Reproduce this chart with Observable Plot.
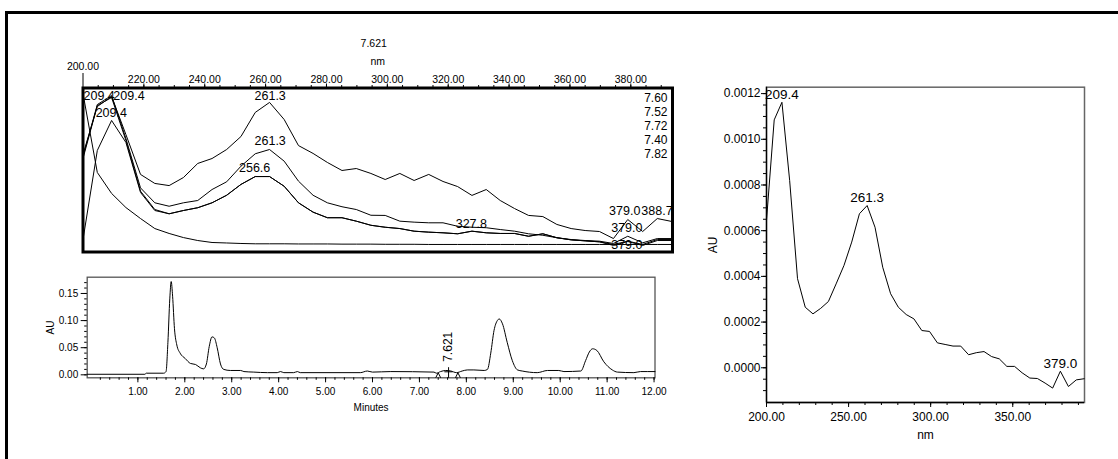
<!DOCTYPE html>
<html><head><meta charset="utf-8">
<script src="https://cdn.jsdelivr.net/npm/d3@7"></script>
<script src="https://cdn.jsdelivr.net/npm/@observablehq/plot@0.6"></script>
<style>
html,body{margin:0;padding:0;background:#fff;}
#chart{position:relative;width:1118px;height:459px;overflow:hidden;background:#fff;}
#chart svg{position:absolute;left:0;top:0;background:transparent;}
#border{position:absolute;left:5px;top:11px;width:1300px;height:700px;border-top:3.5px solid #000;border-left:3.5px solid #000;}
</style></head>
<body><div id="chart"><div id="border"></div></div>
<script>
const W = 1118, H = 459;
const FONT = "Arial, 'Liberation Sans', Helvetica, sans-serif";

// ---------- Spectrum overlay (nm grid) ----------
const wavelengths = [200.0, 204.7, 209.4, 214.1, 218.9, 223.6, 228.3, 233.0, 237.7, 242.4, 247.2, 251.9, 256.6, 261.3, 266.1, 270.8, 275.6, 280.3, 285.1, 289.8, 294.6, 299.3, 304.1, 308.8, 313.6, 318.3, 323.1, 327.8, 332.5, 337.1, 341.8, 346.4, 351.1, 355.7, 360.4, 365.0, 369.7, 374.3, 379.0, 383.9, 388.7, 393.5];
// relative absorbance (%) of the overlaid spectra
const spectrum752 = [59.5, 88.7, 94.8, 71.6, 47.3, 41.8, 40.5, 45.4, 54.0, 57.0, 62.5, 70.4, 85.1, 91.2, 80.8, 64.9, 60.1, 54.6, 49.7, 50.9, 47.9, 44.2, 47.9, 43.6, 47.3, 43.0, 39.9, 34.5, 38.1, 31.4, 26.5, 22.3, 21.6, 16.8, 14.3, 13.1, 12.5, 8.2, 19.8, 12.5, 20.4, 18.6];
const spectrum760 = [58.2, 89.9, 95.4, 69.2, 39.1, 30.0, 27.9, 30.0, 31.4, 38.1, 42.8, 52.3, 59.9, 62.5, 55.4, 43.2, 34.6, 30.0, 27.6, 25.9, 22.4, 22.3, 18.8, 18.2, 17.8, 17.8, 15.7, 15.1, 14.8, 13.7, 12.7, 11.1, 10.2, 8.7, 7.6, 7.0, 6.6, 5.2, 9.6, 5.6, 8.2, 8.2];
const spectrum772 = [57.0, 89.3, 94.2, 68.0, 37.1, 25.9, 23.3, 25.3, 27.0, 30.0, 34.6, 41.2, 46.0, 46.0, 40.1, 30.0, 24.3, 20.9, 20.9, 18.8, 16.3, 15.1, 14.3, 12.7, 12.1, 11.7, 11.1, 12.7, 11.7, 11.3, 11.3, 9.6, 11.1, 8.7, 7.4, 6.8, 6.2, 4.6, 6.6, 4.6, 7.6, 7.6];
const spectrum740 = [96.6, 48.5, 35.7, 27.1, 20.4, 14.3, 11.3, 8.8, 7.0, 5.8, 5.5, 5.2, 5.0, 5.0, 5.0, 4.9, 4.9, 4.9, 4.8, 4.8, 4.8, 4.7, 4.7, 4.7, 4.6, 4.6, 4.6, 4.6, 4.6, 4.6, 4.6, 4.6, 4.6, 4.6, 4.6, 4.6, 4.6, 4.6, 4.6, 4.6, 4.6, 4.6];
const spectrum782 = [7.6, 61.9, 80.2, 66.8, 36.3, 25.3, 23.3, 25.3, 27.0, 30.0, 34.6, 41.2, 46.0, 46.0, 40.1, 30.0, 24.3, 20.9, 20.9, 18.8, 16.3, 15.1, 14.3, 12.7, 12.1, 11.7, 11.1, 12.7, 11.7, 11.3, 11.3, 9.6, 11.1, 8.7, 7.4, 6.8, 6.2, 4.0, 6.4, 4.0, 7.0, 7.0];
const overlaySeries = [["7.52", spectrum752], ["7.60", spectrum760], ["7.72", spectrum772], ["7.40", spectrum740], ["7.82", spectrum782]];
const retentionLegend = ["7.60", "7.52", "7.72", "7.40", "7.82"];
const overlayLabelText  = ["209.4", "209.4", "209.4", "261.3", "261.3", "256.6", "327.8", "379.0", "388.7", "379.0", "379.0"];
const overlayLabelNm    = [205.3, 215.1, 209.3, 261.5, 261.5, 256.4, 327.6, 378.0, 388.6, 378.7, 378.7];
const overlayLabelLevel = [95.0, 95.0, 84.9, 95.0, 67.6, 51.3, 17.2, 25.3, 25.3, 14.8, 4.1];
const overlayMajorTicks = [220, 240, 260, 280, 300, 320, 340, 360, 380];
const selectedTime = 7.621;

// ---------- Chromatogram ----------
const times = [-0.08, 1.15, 1.18, 1.55, 1.60, 1.64, 1.68, 1.71, 1.74, 1.78, 1.83, 1.90, 2.01, 2.12, 2.23, 2.33, 2.40, 2.46, 2.52, 2.58, 2.63, 2.69, 2.76, 2.83, 2.97, 3.19, 3.26, 3.47, 3.76, 3.97, 4.04, 4.11, 4.32, 4.40, 4.46, 5.74, 5.89, 6.00, 6.39, 7.31, 7.36, 7.45, 7.56, 7.67, 7.79, 7.91, 8.02, 8.16, 8.38, 8.45, 8.52, 8.59, 8.66, 8.70, 8.77, 8.87, 8.98, 9.09, 9.19, 9.51, 9.73, 9.97, 10.08, 10.44, 10.54, 10.62, 10.69, 10.78, 10.93, 11.11, 11.22, 11.57, 11.71, 12.02];
const chromAU = [0.001, 0.001, 0.003, 0.003, 0.006, 0.060, 0.140, 0.172, 0.145, 0.085, 0.055, 0.040, 0.030, 0.021, 0.019, 0.013, 0.011, 0.020, 0.052, 0.070, 0.068, 0.050, 0.020, 0.010, 0.008, 0.008, 0.006, 0.005, 0.004, 0.004, 0.006, 0.004, 0.004, 0.006, 0.004, 0.004, 0.007, 0.005, 0.006, 0.005, 0.003, 0.006, 0.008, 0.007, 0.004, 0.007, 0.009, 0.009, 0.008, 0.010, 0.040, 0.082, 0.100, 0.103, 0.094, 0.060, 0.026, 0.009, 0.007, 0.004, 0.008, 0.008, 0.006, 0.007, 0.026, 0.042, 0.048, 0.045, 0.024, 0.009, 0.005, 0.004, 0.006, 0.006];
const windowEdges = [7.40, 7.82];
const chromXTicks = [1, 2, 3, 4, 5, 6, 7, 8, 9, 10, 11, 12];
const chromYTicks = [0, 0.05, 0.10, 0.15];

// ---------- Spectrum at 7.621 min ----------
const spectrumAU = [0.000645, 0.001085, 0.001162, 0.00082, 0.00039, 0.000265, 0.000236, 0.00026, 0.00029, 0.000367, 0.000448, 0.00055, 0.000674, 0.00071, 0.000615, 0.00044, 0.000324, 0.000265, 0.000233, 0.000214, 0.000163, 0.000159, 0.000109, 0.000102, 0.000095, 0.000095, 0.000057, 0.000066, 0.000071, 0.000049, 0.000039, 0.000006, 0.000006, -0.000022, -0.000045, -0.000047, -0.000067, -0.000089, -0.000015, -0.000082, -0.000053, -0.000048];
const spectrumPeaks = [209.4, 261.3, 379.0];
const specXTicks = [200, 250, 300, 350];
const specYTicks = [0, 0.0002, 0.0004, 0.0006, 0.0008, 0.0010, 0.0012];

const nmDomain = [200, 393.7];
const chart = document.getElementById("chart");
const baseStyle = (size) => ({fontFamily: FONT, fontSize: size, background: "transparent", color: "#000", overflow: "visible"});

// symbols
const caret = {draw(ctx, size) { const r = Math.sqrt(size / Math.PI); ctx.moveTo(-r, r); ctx.lineTo(0, -r); ctx.lineTo(r, r); }};
const plusMark = {draw(ctx, size) { ctx.moveTo(0, 0); ctx.lineTo(0, -10.6); ctx.moveTo(-4.2, -6); ctx.lineTo(4.2, -6); }};

// ---------- overlay plot ----------
const overlayRows = overlaySeries.flatMap(([rt, vals]) => vals.map((v, i) => ({rt, nm: wavelengths[i], v})));
const overlayLabels = overlayLabelText.map((t, i) => ({t, nm: overlayLabelNm[i], v: overlayLabelLevel[i]}));
const overlay = Plot.plot({
  width: W, height: H,
  marginLeft: 82.5, marginRight: W - 672, marginTop: 87.5, marginBottom: H - 251.5,
  x: {domain: nmDomain}, y: {domain: [0, 100], axis: null},
  style: baseStyle("10.5px"),
  marks: [
    Plot.line(overlayRows, {x: "nm", y: "v", z: "rt", stroke: "#000", strokeWidth: 1}),
    Plot.frame({stroke: "#000", strokeWidth: 3}),
    Plot.axisX({anchor: "top", ticks: d3.range(205, 391, 5), tickSize: 3.5, tickFormat: () => "", label: null}),
    Plot.axisX({anchor: "top", ticks: overlayMajorTicks, tickSize: 5, tickPadding: 0.5, tickFormat: d => d.toFixed(2), label: null}),
    Plot.axisX({anchor: "top", ticks: [nmDomain[0]], tickSize: 15.5, tickPadding: 3, tickFormat: d => d.toFixed(2), label: null}),
    Plot.text([selectedTime], {frameAnchor: "top", dx: -4, dy: -44.5, text: d => d.toFixed(3), textAnchor: "middle", lineAnchor: "middle"}),
    Plot.text(["nm"], {frameAnchor: "top", dy: -26.5, textAnchor: "middle", lineAnchor: "middle"}),
    Plot.text([retentionLegend.join("\n")], {frameAnchor: "top-right", dx: -5, dy: 4, textAnchor: "end", lineAnchor: "top", lineHeight: 1.17, fontSize: 12}),
    Plot.text(overlayLabels, {x: "nm", y: "v", text: "t", fontSize: 12.5})
  ]
});
chart.appendChild(overlay);

// ---------- chromatogram ----------
const chromRows = times.map((t, i) => ({t, au: chromAU[i]}));
const chrom = Plot.plot({
  width: W, height: H,
  marginLeft: 86.7, marginRight: W - 654.5, marginTop: 276.7, marginBottom: H - 377.3,
  x: {domain: [-0.08, 12.02]}, y: {domain: [-0.0055, 0.18]},
  style: baseStyle("10px"),
  marks: [
    Plot.frame({stroke: "#555", strokeWidth: 1.3}),
    Plot.line(chromRows, {x: "t", y: "au", stroke: "#000", strokeWidth: 1, curve: "monotone-x"}),
    Plot.axisX({ticks: d3.range(1, 61).map(i => i / 5), tickSize: 2.5, tickFormat: () => "", label: null}),
    Plot.axisX({ticks: chromXTicks, tickSize: 5, tickPadding: 5, tickFormat: d => d.toFixed(2), label: null}),
    Plot.axisY({ticks: d3.range(0, 18).map(i => i / 100), tickSize: 2.5, tickFormat: () => "", label: null}),
    Plot.axisY({ticks: chromYTicks, tickSize: 6, tickPadding: 3, tickFormat: d => d.toFixed(2), label: null}),
    Plot.text(["Minutes"], {frameAnchor: "bottom", dy: 30.4, textAnchor: "middle", lineAnchor: "middle"}),
    Plot.text(["AU"], {frameAnchor: "left", dx: -36.7, rotate: -90, textAnchor: "middle", lineAnchor: "middle"}),
    Plot.dot(windowEdges, {x: d => d, frameAnchor: "bottom", dy: -2.5, symbol: caret, r: 2.5, stroke: "#000", fill: "none", strokeWidth: 1}),
    Plot.dot([selectedTime], {x: d => d, frameAnchor: "bottom", symbol: plusMark, r: 5, stroke: "#000", fill: "none", strokeWidth: 1}),
    Plot.text([selectedTime], {x: d => d, frameAnchor: "bottom", dy: -16, rotate: -90, textAnchor: "start", lineAnchor: "middle", text: d => d.toFixed(3), fontSize: 12})
  ]
});
chart.appendChild(chrom);

// ---------- spectrum at selected time ----------
const specRows = wavelengths.map((nm, i) => ({nm, au: spectrumAU[i]}));
const peakRows = spectrumPeaks.map(p => specRows.find(r => r.nm === p));
const specYDomain = [-0.000152, 0.001228];
const spec = Plot.plot({
  width: W, height: H,
  marginLeft: 766, marginRight: W - 1084, marginTop: 86.7, marginBottom: H - 402,
  x: {domain: nmDomain}, y: {domain: specYDomain},
  style: baseStyle("12px"),
  marks: [
    Plot.frame({stroke: "#666", strokeWidth: 1.5}),
    Plot.ruleX([nmDomain[0]], {stroke: "#000", strokeWidth: 1.3}),
    Plot.ruleY([specYDomain[0]], {stroke: "#000", strokeWidth: 1.3}),
    Plot.line(specRows, {x: "nm", y: "au", stroke: "#000", strokeWidth: 1}),
    Plot.axisX({ticks: d3.range(210, 391, 10), tickSize: 3, tickFormat: () => "", label: null}),
    Plot.axisX({ticks: specXTicks, tickSize: 5, tickPadding: 5, tickFormat: d => d.toFixed(2), label: null}),
    Plot.axisY({ticks: d3.range(-2, 25).map(i => i * 0.00005), tickSize: 3, tickFormat: () => "", label: null}),
    Plot.axisY({ticks: specYTicks, tickSize: 5, tickPadding: 1, tickFormat: d => d.toFixed(4), label: null}),
    Plot.text(["nm"], {frameAnchor: "bottom", dy: 33, textAnchor: "middle", lineAnchor: "middle"}),
    Plot.text(["AU"], {frameAnchor: "left", dx: -53, rotate: -90, textAnchor: "middle", lineAnchor: "middle"}),
    Plot.text(peakRows, {x: "nm", y: "au", text: d => d.nm.toFixed(1), dy: -8, fontSize: 13.5})
  ]
});
chart.appendChild(spec);
</script>
</body></html>
